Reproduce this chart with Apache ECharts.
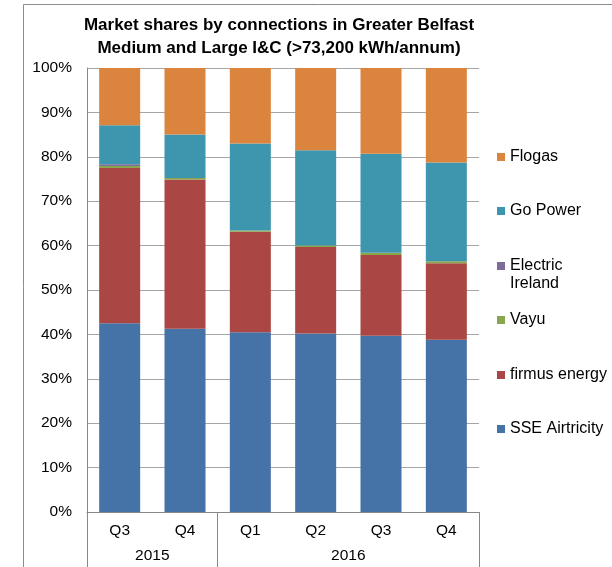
<!DOCTYPE html>
<html>
<head>
<meta charset="utf-8">
<script src="https://cdn.jsdelivr.net/npm/echarts@6/dist/echarts.min.js"></script>
<style>
  html, body { margin: 0; padding: 0; background: #fff; }
  #chart { width: 612px; height: 567px; }
</style>
</head>
<body>
<div id="chart"></div>
<script>
// quarters and the year each group belongs to
var quarters = ['Q3', 'Q4', 'Q1', 'Q2', 'Q3', 'Q4'];
var years = ['2015', '2016'];
var yearCenters = [1, 4];      // middle of each year group, in category units
var yearBounds = [0, 2, 6];    // separators between the year groups

// shares in %, stacked bottom to top
var sseAirtricity = [42.5, 41.3, 40.5, 40.2, 39.7, 38.8];
var firmusEnergy = [35.0, 33.6, 22.6, 19.5, 18.2, 17.2];
var vayu = [0.4, 0.3, 0.3, 0.3, 0.5, 0.5];
var electricIreland = [0.4, 0.0, 0.0, 0.0, 0.0, 0.0];
var goPower = [8.8, 9.8, 19.6, 21.5, 22.3, 22.2];
var flogas = [12.9, 15.0, 17.0, 18.5, 19.3, 21.3];

var font = 'Liberation Sans, Arial, sans-serif';

var seriesList = [
    { name: 'SSE Airtricity', data: sseAirtricity, color: '#4572A7' },
    { name: 'firmus energy', data: firmusEnergy, color: '#AA4643' },
    { name: 'Vayu', data: vayu, color: '#89A54E' },
    { name: 'Electric Ireland', data: electricIreland, color: '#80699B' },
    { name: 'Go Power', data: goPower, color: '#3D96AE' },
    { name: 'Flogas', data: flogas, color: '#DB843D' }
];

// legend rows, top to bottom (reverse of the stack)
var legendTops = [143, 197, 252, 306, 361, 415];

var myChart = echarts.init(document.getElementById('chart'), null, { renderer: 'canvas' });

var legends = seriesList.slice().reverse().map(function (s, i) {
    return {
        data: [s.name],
        left: 492,
        top: legendTops[i],
        itemWidth: 8,
        itemHeight: 8,
        itemGap: 0,
        icon: 'rect',
        selectedMode: false,
        // "Ireland" goes on a second line below, see graphic
        formatter: s.name === 'Electric Ireland' ? 'Electric' : '{name}',
        textStyle: {
            fontFamily: font,
            fontSize: 16,
            color: '#000',
            lineHeight: 18
        }
    };
});

var option = {
    backgroundColor: '#fff',
    animation: false,
    title: {
        text: 'Market shares by connections in Greater Belfast\nMedium and Large I&C (>73,200 kWh/annum)',
        left: 274,
        top: 9,
        textAlign: 'center',
        textStyle: {
            fontFamily: font,
            fontSize: 17,
            fontWeight: 'bold',
            color: '#000',
            lineHeight: 23
        }
    },
    legend: legends,
    grid: { left: 87, top: 68, right: 133, bottom: 55, containLabel: false },
    xAxis: [{
        type: 'category',
        data: quarters,
        axisLine: { show: true, lineStyle: { color: '#888', width: 1 } },
        axisTick: { show: false },
        axisLabel: { fontFamily: font, fontSize: 15.5, color: '#000', margin: 11 }
    }, {
        // year groups underneath the quarters
        type: 'value',
        min: 0,
        max: 6,
        position: 'bottom',
        splitLine: { show: false },
        axisLine: { show: false },
        axisTick: {
            show: true,
            customValues: yearBounds,
            length: 60,
            lineStyle: { color: '#888', width: 1 }
        },
        axisLabel: {
            customValues: yearCenters,
            formatter: function (v) { return years[yearCenters.indexOf(v)] || ''; },
            fontFamily: font,
            fontSize: 15.5,
            color: '#000',
            margin: 36
        }
    }],
    yAxis: {
        type: 'value',
        min: 0,
        max: 100,
        interval: 10,
        axisLine: { show: true, lineStyle: { color: '#888', width: 1 } },
        axisTick: { show: false },
        splitLine: { lineStyle: { color: '#A6A6A6', width: 1 } },
        axisLabel: {
            formatter: '{value}%',
            fontFamily: font,
            fontSize: 15.5,
            color: '#000',
            margin: 15
        }
    },
    graphic: [{
        type: 'rect',
        shape: { x: 23.5, y: 4.5, width: 700, height: 700 },
        style: { fill: 'none', stroke: '#8c8c8c', lineWidth: 1 },
        z: -10,
        silent: true
    }, {
        type: 'text',
        left: 510,
        top: 276,
        style: { text: 'Ireland', fontFamily: font, fontSize: 16, fill: '#000' },
        silent: true
    }],
    series: seriesList.map(function (s) {
        return {
            name: s.name,
            type: 'bar',
            stack: 'total',
            xAxisIndex: 0,
            barWidth: 41,
            data: s.data,
            itemStyle: { color: s.color }
        };
    })
};

myChart.setOption(option);
</script>
</body>
</html>
